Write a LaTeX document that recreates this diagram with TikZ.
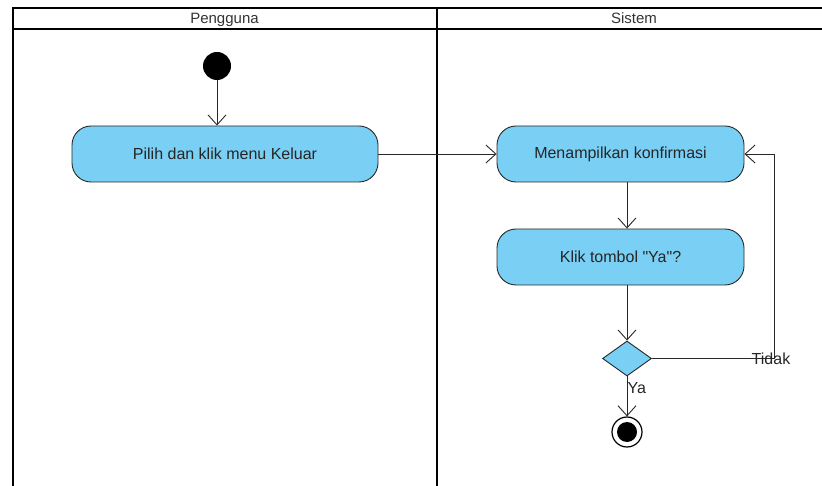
\documentclass[tikz,border=0pt]{standalone}
\usepackage{fontspec}
\setmainfont{Liberation Sans}
\usetikzlibrary{arrows.meta,shapes.geometric}
\definecolor{actfill}{RGB}{122,207,245}
\definecolor{linec}{RGB}{40,40,40}
\tikzset{
  lane/.style={draw=black,line width=2.4pt},
  action/.style={draw=linec,fill=actfill,line width=0.9pt,rounded corners=19pt,minimum width=306pt,minimum height=56pt,font=\fontsize{16}{19}\selectfont,text=black!85},
  flow/.style={draw=linec,line width=0.9pt,-{Straight Barb[length=10pt,width=18pt,line width=0.9pt]}},
  lbl/.style={font=\fontsize{16}{19}\selectfont,inner sep=0pt,text=black!85},
  head/.style={font=\fontsize{15}{17}\selectfont,inner sep=0pt,anchor=base,text=black!80},
}
\begin{document}
\begin{tikzpicture}[x=1pt,y=-1pt]
\useasboundingbox (0,0) rectangle (822,486);
% swimlanes
\coordinate (tl) at (13,8);
\coordinate (tr) at (822,8);
\coordinate (hl) at (13,29);
\coordinate (hr) at (822,29);
\coordinate (bl) at (13,486);
\coordinate (dt) at (437,8);
\coordinate (db) at (437,486);
\draw[lane] (tr) -- (tl) -- (bl);
\draw[lane] (hl) -- (hr);
\draw[lane] (dt) -- (db);
\node[head] (h1) at (224.5,23.3) {Pengguna};
\node[head] (h2) at (634,23.3) {Sistem};
% nodes
\node[circle,fill=black,minimum size=28pt,inner sep=0pt] (start) at (217,66) {};
\node[action] (a1) at (225,154) {Pilih dan klik menu Keluar};
\node[action,minimum width=247pt] (a2) at (620.5,154) {Menampilkan konfirmasi};
\node[action,minimum width=247pt] (a3) at (620.5,257) {Klik tombol \textquotedbl Ya\textquotedbl ?};
\node[diamond,draw=linec,fill=actfill,line width=0.9pt,minimum width=49pt,minimum height=35pt,inner sep=0pt,aspect=1.4] (d) at (627,358.5) {};
\node[circle,draw=black,line width=1.2pt,minimum size=30pt,inner sep=0pt,fill=white] (endo) at (627,432) {};
\node[circle,fill=black,minimum size=20pt,inner sep=0pt] (endi) at (627,432) {};
\coordinate (c1) at (774,358.5);
\coordinate (c2) at (774,154);
% connectors
\draw[flow] (start.south) -- (start.south |- a1.north);
\draw[flow] (a1.east) -- (a2.west);
\draw[flow] (a2.south -| d.north) -- (a3.north -| d.north);
\draw[flow] (a3.south -| d.north) -- (d.north);
\draw[flow] (d.south) -- (endo.north);
\draw[flow] (d.east) -- (c1) -- (c2) -- (a2.east);
\node[lbl] (tidak) at (771,359) {Tidak};
\node[lbl,anchor=west] (ya) at (627.5,388) {Ya};
\end{tikzpicture}
\end{document}
